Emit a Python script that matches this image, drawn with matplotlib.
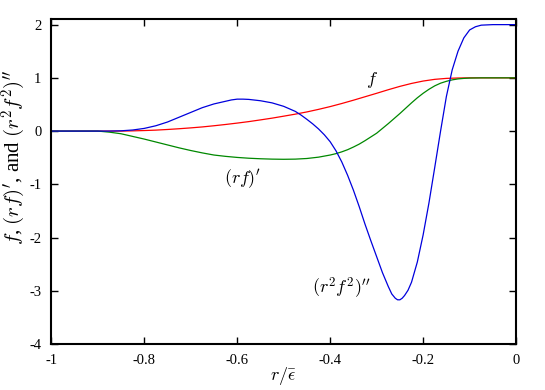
import matplotlib
matplotlib.use("Agg")
import matplotlib.pyplot as plt

# values
x_f = [-1.0, -0.9, -0.85, -0.825, -0.8, -0.775, -0.75, -0.725, -0.7, -0.675, -0.65,
       -0.625, -0.6, -0.575, -0.55, -0.525, -0.5, -0.475, -0.45, -0.425, -0.4,
       -0.375, -0.35, -0.325, -0.3, -0.275, -0.25, -0.225, -0.2, -0.175, -0.15,
       -0.125, -0.1, -0.05, 0.0]
f_vals = [0.0, 0.0, 0.0, 0.004, 0.01, 0.018, 0.03, 0.044, 0.06, 0.078, 0.1,
          0.124, 0.15, 0.178, 0.21, 0.243, 0.28, 0.318, 0.36, 0.408, 0.46,
          0.518, 0.58, 0.645, 0.71, 0.777, 0.84, 0.895, 0.94, 0.972, 0.99,
          0.997, 1.0, 1.0, 1.0]

x_rf = [-1.0, -0.9, -0.875, -0.85, -0.825, -0.8, -0.775, -0.75, -0.725, -0.7,
        -0.675, -0.65, -0.625, -0.6, -0.575, -0.55, -0.525, -0.5, -0.475, -0.45,
        -0.425, -0.4, -0.3875, -0.375, -0.3625, -0.35, -0.3375, -0.325, -0.3125,
        -0.3, -0.2875, -0.275, -0.2625, -0.25, -0.2375, -0.225, -0.2125, -0.2,
        -0.1875, -0.175, -0.1625, -0.15, -0.1375, -0.125, -0.1125, -0.1, -0.075,
        -0.05, 0.0]
rf_vals = [0.0, 0.0, -0.02, -0.05, -0.1, -0.15, -0.205, -0.26, -0.315, -0.365,
           -0.41, -0.45, -0.475, -0.495, -0.51, -0.52, -0.527, -0.53, -0.527, -0.515,
           -0.49, -0.45, -0.424, -0.39, -0.35, -0.3, -0.245, -0.18, -0.11,
           -0.04, 0.05, 0.14, 0.235, 0.33, 0.43, 0.53, 0.625, 0.71,
           0.785, 0.85, 0.9, 0.935, 0.962, 0.98, 0.99, 0.996, 1.0,
           1.0, 1.0]

x_r2f2 = [-1.0, -0.9, -0.875, -0.85, -0.825, -0.8, -0.775, -0.75, -0.725, -0.7,
          -0.675, -0.65, -0.625, -0.6125, -0.6, -0.5875, -0.575, -0.55, -0.525,
          -0.5, -0.475, -0.4625, -0.45, -0.4375, -0.425, -0.4125, -0.4, -0.3875,
          -0.375, -0.3625, -0.35, -0.3375, -0.325, -0.3125, -0.3, -0.2875, -0.275,
          -0.2675, -0.26, -0.255, -0.25, -0.245, -0.24, -0.2325, -0.225, -0.2125,
          -0.2, -0.1875, -0.175, -0.1625, -0.15, -0.1375, -0.125, -0.1125, -0.1,
          -0.0875, -0.075, -0.05, 0.0]
r2f2_vals = [0.0, 0.0, 0.0, 0.005, 0.02, 0.05, 0.1, 0.17, 0.26, 0.35,
             0.44, 0.51, 0.56, 0.585, 0.6, 0.6, 0.595, 0.57, 0.53,
             0.465, 0.37, 0.3, 0.22, 0.135, 0.04, -0.07, -0.2, -0.37,
             -0.58, -0.83, -1.11, -1.42, -1.75, -2.06, -2.36, -2.66, -2.92,
             -3.06, -3.14, -3.17, -3.17, -3.14, -3.09, -2.99, -2.84, -2.46,
             -1.95, -1.35, -0.68, 0.0, 0.65, 1.15, 1.5, 1.75, 1.9,
             1.96, 1.99, 2.0, 2.0]

plt.rcParams['font.family'] = ['Liberation Serif', 'DejaVu Serif']
plt.rcParams['mathtext.fontset'] = 'cm'
plt.rcParams['axes.unicode_minus'] = False

fig = plt.figure(figsize=(5.45, 3.9), dpi=100)
ax = fig.add_axes([0.094, 0.118, 0.853, 0.8325])

ax.plot(x_f, f_vals, color='#ff0000', lw=0.9)
ax.plot(x_rf, rf_vals, color='#008800', lw=0.9)
ax.plot(x_r2f2, r2f2_vals, color='#0000dd', lw=0.9)

ax.text(-0.31, 0.96, r'$f$', fontsize=13, ha='center', va='center')
ax.text(-0.588, -0.9, r"$(rf)'$", fontsize=13, ha='center', va='center')
ax.text(-0.375, -2.95, r"$(r^2f^2)''$", fontsize=13, ha='center', va='center')

ax.set_xlim(-1, 0)
ax.set_ylim(-4, 2.1)
ax.set_xticks([-1, -0.8, -0.6, -0.4, -0.2, 0])
ax.set_xticklabels(['-1', '-0.8', '-0.6', '-0.4', '-0.2', '0'])
ax.set_yticks([-4, -3, -2, -1, 0, 1, 2])
ax.tick_params(direction='in', top=True, right=True, length=5, width=1,
               labelsize=10.5, pad=7)

for s in ax.spines.values():
    s.set_linewidth(1.5)

ax.set_xlabel(r'$r/\bar{\epsilon}$', fontsize=13, labelpad=-1)
ax.set_ylabel(r"$f$, $(rf)'$, and $(r^2f^2)''$", fontsize=15,
              va='center', ha='center')
ax.yaxis.set_label_coords(-0.08, 0.575)

fig.savefig('out.png', dpi=100)
